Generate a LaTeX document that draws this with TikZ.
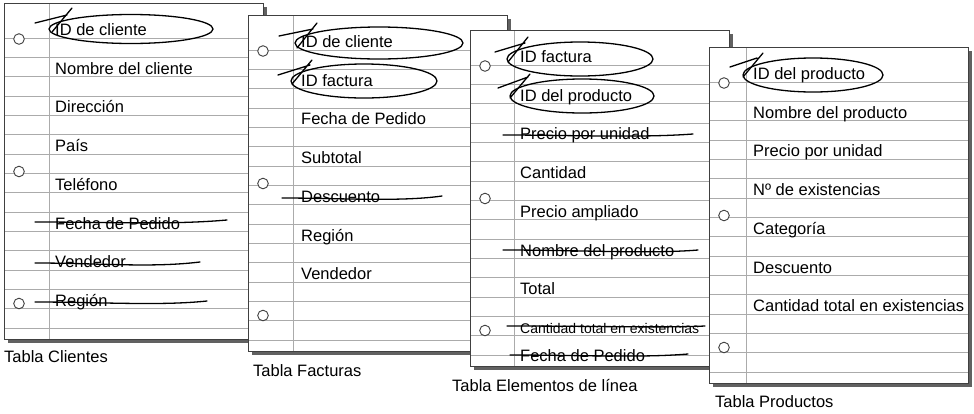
\documentclass[tikz,border=0pt]{standalone}
\usepackage{fontspec}
\setmainfont{Liberation Sans}
\tikzset{
  sombra/.style={fill=black!62,draw=none},
  papel/.style={fill=white,draw=black!75,line width=0.9pt},
  renglon/.style={draw=black!33,line width=1pt},
  agujero/.style={fill=white,draw=black!75,line width=0.9pt},
  campo/.style={anchor=base west,inner sep=0pt,font=\fontsize{16.5}{19}\selectfont},
  pie/.style={anchor=west,inner sep=0pt,font=\fontsize{16.5}{19}\selectfont},
  marca/.style={draw=black,line width=1.3pt,line cap=round},
}
%% one sheet of paper: left, top, margin offset
\newcommand{\hoja}[3]{%
  \fill[sombra] (#1+4,#2+4) rectangle ++(259,336);
  \fill[white] (#1,#2) rectangle ++(259,336);
  \foreach \k in {0,...,15} \draw[renglon] (#1,#2+35+19.35*\k) -- ++(259,0);
  \draw[renglon] (#1+#3,#2) -- ++(0,336);
  \foreach \h in {36,168.5,300.5} \draw[agujero] (#1+15,#2+\h) circle (5.3pt);
  \draw[papel,fill=none] (#1,#2) rectangle ++(259,336);
}
\begin{document}
\begin{tikzpicture}[x=1pt,y=-1pt]
  \useasboundingbox (0,0) rectangle (974,413);
  %% Clientes
  \hoja{4}{3}{45}
  \foreach \t [count=\j from 0] in {ID de cliente,Nombre del cliente,Dirección,País,Teléfono,Fecha de Pedido,Vendedor,Región}
    \node[campo] (cli\j) at (55,35.5+38.7*\j) {\t};
  \draw[marca] (131,29) ellipse (82pt and 14.5pt);
  \draw[marca] (35,23) -- (67,15) (52,32) -- (72,8);
  \draw[marca] (35,222) .. controls (110,222) and (170,225) .. (227,220);
  \draw[marca] (35,263) .. controls (100,263) and (150,268) .. (200,262);
  \draw[marca] (35,302) .. controls (100,302) and (160,306) .. (207,301);
  \node[pie] (tcli) at (4,357) {Tabla Clientes};
  %% Facturas
  \hoja{248}{15}{45}
  \foreach \t [count=\j from 0] in {ID de cliente,ID factura,Fecha de Pedido,Subtotal,Descuento,Región,Vendedor}
    \node[campo] (fac\j) at (301,47.5+38.7*\j) {\t};
  \draw[marca] (379,43) ellipse (84pt and 16pt);
  \draw[marca] (279,36) -- (313,29) (297,48) -- (317,23);
  \draw[marca] (364,81) ellipse (73pt and 17pt);
  \draw[marca] (278,75) -- (310,65) (292,84) -- (312,60);
  \draw[marca] (282,198) .. controls (340,198) and (400,202) .. (442,196);
  \node[pie] (tfac) at (253,371) {Tabla Facturas};
  %% Elementos de linea
  \hoja{470}{30}{44}
  \foreach \t [count=\j from 0] in {ID factura,ID del producto,Precio por unidad,Cantidad,Precio ampliado,Nombre del producto,Total,{\fontsize{14}{16}\selectfont Cantidad total en existencias}}
    \node[campo] (ele\j) at (520,62.5+38.7*\j) {\t};
  \node[campo] (ele8) at (520,361) {Fecha de Pedido};
  \draw[marca] (580,59) ellipse (73pt and 17pt);
  \draw[marca] (495,52) -- (525,43) (508,62) -- (528,37);
  \draw[marca] (582,96) ellipse (72pt and 17pt);
  \draw[marca] (498,88) -- (528,77) (510,98) -- (530,74);
  \draw[marca] (503,135) .. controls (570,135) and (640,138) .. (693,134);
  \draw[marca] (503,250) .. controls (580,250) and (650,254) .. (698,250);
  \draw[marca] (507,326) .. controls (600,326) and (660,328) .. (705,326);
  \draw[marca] (510,355) .. controls (580,355) and (640,358) .. (688,354);
  \node[pie] (tele) at (452,385) {Tabla Elementos de línea};
  %% Productos
  \hoja{709}{47}{37}
  \foreach \t [count=\j from 0] in {ID del producto,Nombre del producto,Precio por unidad,Nº de existencias,Categoría,Descuento,Cantidad total en existencias}
    \node[campo] (pro\j) at (753,79.5+38.7*\j) {\t};
  \draw[marca] (813,75) ellipse (70pt and 17pt);
  \draw[marca] (730,67) -- (757,58) (743,77) -- (763,53);
  \node[pie] (tpro) at (715,402) {Tabla Productos};
\end{tikzpicture}
\end{document}
